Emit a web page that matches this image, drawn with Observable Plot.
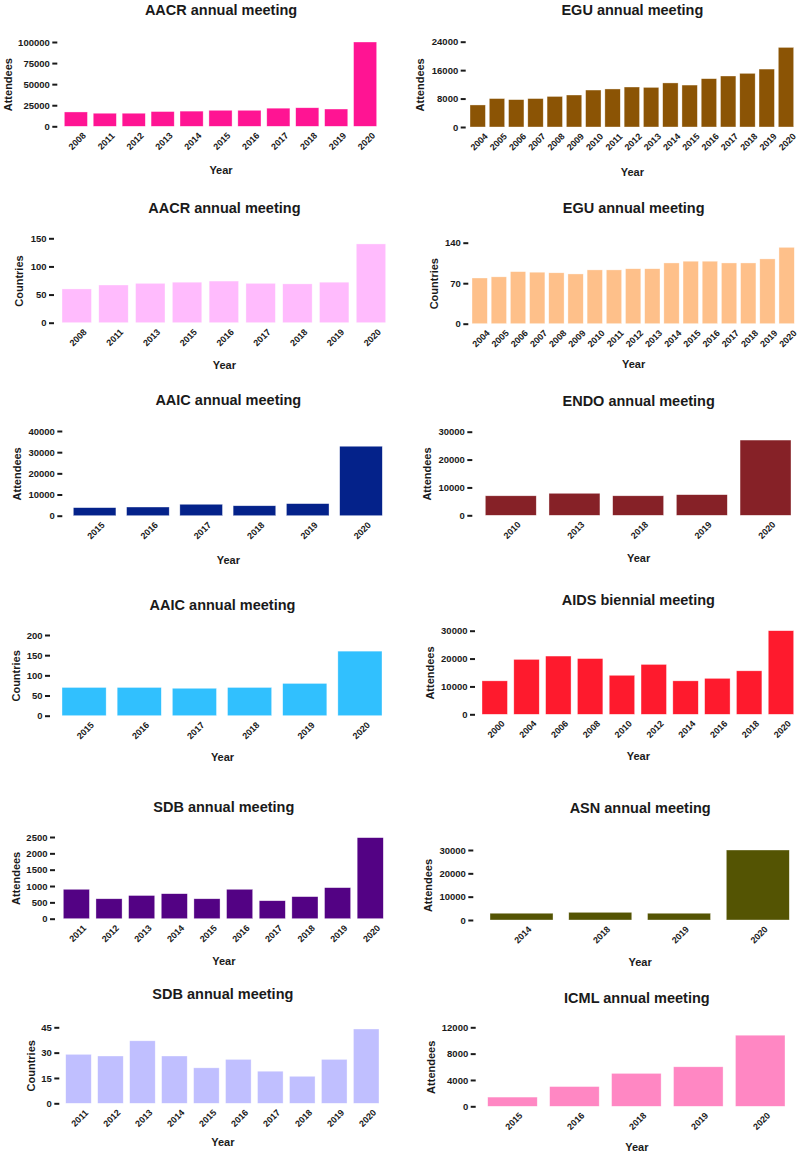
<!DOCTYPE html>
<html><head><meta charset="utf-8">
<script src="https://cdn.jsdelivr.net/npm/d3@7"></script>
<script src="https://cdn.jsdelivr.net/npm/@observablehq/plot@0.6"></script>
<style>
body{margin:0;background:#fff;}
#root{position:relative;width:799px;height:1153px;overflow:hidden;font-family:"Liberation Sans",Arial,sans-serif;}
#root svg{position:absolute;overflow:visible;}
</style></head><body><div id="root"></div>
<script>
// ---------- data ----------
const aacrAttYears = ["2008","2011","2012","2013","2014","2015","2016","2017","2018","2019","2020"];
const aacrAttendees = [17000,15500,15500,17500,18000,19000,19000,21500,22000,20500,100000];
const aacrAttTicks = [0,25000,50000,75000,100000];

const eguYears = ["2004","2005","2006","2007","2008","2009","2010","2011","2012","2013","2014","2015","2016","2017","2018","2019","2020"];
const eguAttendees = [6200,8000,7700,8000,8600,9000,10400,10700,11250,11150,12400,11800,13600,14350,15100,16300,22400];
const eguAttTicks = [0,8000,16000,24000];

const aacrCtyYears = ["2008","2011","2013","2015","2016","2017","2018","2019","2020"];
const aacrCountries = [60,67,70,72,74,70,69,72,140];
const aacrCtyTicks = [0,50,100,150];

const eguCountries = [79,81,90,89,88,86,93,93,95,95,105,108,108,105,105,112,132];
const eguCtyTicks = [0,70,140];

const aaicYears = ["2015","2016","2017","2018","2019","2020"];
const aaicAttendees = [3800,4100,5400,4700,5700,32800];
const aaicAttTicks = [0,10000,20000,30000,40000];
const aaicCountries = [70,70,68,70,80,160];
const aaicCtyTicks = [0,50,100,150,200];

const endoYears = ["2010","2013","2018","2019","2020"];
const endoAttendees = [7000,7900,7000,7400,27000];
const endoTicks = [0,10000,20000,30000];

const aidsYears = ["2000","2004","2006","2008","2010","2012","2014","2016","2018","2020"];
const aidsAttendees = [12000,19700,20900,20000,14000,17900,12000,12900,15600,30000];
const aidsTicks = [0,10000,20000,30000];

const sdbYears = ["2011","2012","2013","2014","2015","2016","2017","2018","2019","2020"];
const sdbAttendees = [900,610,710,765,610,900,550,675,950,2480];
const sdbAttTicks = [0,500,1000,1500,2000,2500];
const sdbCountries = [29,28,37,28,21,26,19,16,26,44];
const sdbCtyTicks = [0,15,30,45];

const asnYears = ["2014","2018","2019","2020"];
const asnAttendees = [2900,3300,2900,30000];
const asnTicks = [0,10000,20000,30000];

const icmlYears = ["2015","2016","2018","2019","2020"];
const icmlAttendees = [1400,3000,5000,6000,10800];
const icmlTicks = [0,4000,8000,12000];

// ---------- panels ----------
const panels = [
  {title:"AACR annual meeting", ylab:"Attendees", years:aacrAttYears, values:aacrAttendees, ticks:aacrAttTicks, color:"#FF1493",
   col:0, barL:64.3, barR:376.7, yTop:42, yBot:126.3, titleY:10.3, ylabX:8, yearY:170, gap:7},
  {title:"EGU annual meeting", ylab:"Attendees", years:eguYears, values:eguAttendees, ticks:eguAttTicks, color:"#8B5405",
   col:400, barL:470, barR:793.7, yTop:41.7, yBot:127, titleY:10, ylabX:420, yearY:171.7, gap:4.3},
  {title:"AACR annual meeting", ylab:"Countries", years:aacrCtyYears, values:aacrCountries, ticks:aacrCtyTicks, color:"#FFBBFD",
   col:0, barL:62, barR:385.7, yTop:238.3, yBot:322.7, titleY:207.7, ylabX:19, yearY:365, gap:8},
  {title:"EGU annual meeting", ylab:"Countries", years:eguYears, values:eguCountries, ticks:eguCtyTicks, color:"#FEC08A",
   col:400, barL:472, barR:794.3, yTop:242.7, yBot:323.7, titleY:207.7, ylabX:434, yearY:364, gap:3.7},
  {title:"AAIC annual meeting", ylab:"Attendees", years:aaicYears, values:aaicAttendees, ticks:aaicAttTicks, color:"#04228A",
   col:0, barL:73.3, barR:382.3, yTop:431, yBot:515.7, titleY:400, ylabX:17.3, yearY:560, gap:11},
  {title:"ENDO annual meeting", ylab:"Attendees", years:endoYears, values:endoAttendees, ticks:endoTicks, color:"#862127",
   col:400, barL:485.3, barR:791, yTop:431.7, yBot:515.3, titleY:400.8, ylabX:426.7, yearY:557.7, gap:13},
  {title:"AAIC annual meeting", ylab:"Countries", years:aaicYears, values:aaicCountries, ticks:aaicCtyTicks, color:"#31C0FE",
   col:0, barL:62, barR:382, yTop:635, yBot:715.7, titleY:604.7, ylabX:15.5, yearY:756.7, gap:12},
  {title:"AIDS biennial meeting", ylab:"Attendees", years:aidsYears, values:aidsAttendees, ticks:aidsTicks, color:"#FE1A2D",
   col:400, barL:482, barR:793.7, yTop:630.7, yBot:714.3, titleY:599.8, ylabX:430.3, yearY:756, gap:7},
  {title:"SDB annual meeting", ylab:"Attendees", years:sdbYears, values:sdbAttendees, ticks:sdbAttTicks, color:"#530284",
   col:0, barL:63.3, barR:383.3, yTop:837, yBot:918.7, titleY:806.5, ylabX:16, yearY:960.7, gap:8.3},
  {title:"ASN annual meeting", ylab:"Attendees", years:asnYears, values:asnAttendees, ticks:asnTicks, color:"#545403",
   col:400, barL:490, barR:789.3, yTop:850, yBot:920, titleY:807.7, ylabX:428.3, yearY:962, gap:16.7},
  {title:"SDB annual meeting", ylab:"Countries", years:sdbYears, values:sdbCountries, ticks:sdbCtyTicks, color:"#C0BFFF",
   col:0, barL:65.7, barR:379, yTop:1027.3, yBot:1103.3, titleY:993.5, ylabX:30.5, yearY:1142.3, gap:6.4},
  {title:"ICML annual meeting", ylab:"Attendees", years:icmlYears, values:icmlAttendees, ticks:icmlTicks, color:"#FF87C3",
   col:400, barL:487.7, barR:785, yTop:1027.3, yBot:1106.3, titleY:998.3, ylabX:430.5, yearY:1146.7, gap:12}
];

const root = document.getElementById("root");
const ink = "#1a1a1a";
const font = "'Liberation Sans', Arial, sans-serif";

for (const p of panels) {
  const data = p.years.map((y, i) => ({year: y, value: p.values[i]}));
  const svgLeft = p.col, width = p.col === 0 ? 400 : 399;
  const svgTop = Math.floor(p.titleY - 20);
  const svgBottom = Math.ceil(p.yearY + 14);
  const height = svgBottom - svgTop;
  const chart = Plot.plot({
    width, height,
    marginLeft: p.barL - svgLeft,
    marginRight: svgLeft + width - p.barR,
    marginTop: p.yTop - svgTop,
    marginBottom: svgBottom - p.yBot,
    style: {background: "transparent", fontFamily: font, overflow: "visible"},
    x: {type: "band", domain: p.years, paddingInner: 0.2, paddingOuter: 0, align: 0.5, round: false, axis: null},
    y: {domain: [0, p.ticks[p.ticks.length - 1]], nice: false, round: false},
    marks: [
      Plot.barY(data, {x: "year", y: "value", fill: p.color, stroke: "white", strokeWidth: 0.6, strokeOpacity: 0.6}),
      Plot.axisY({ticks: p.ticks, tickFormat: d3.format("d"), tickSize: 5, tickPadding: 3, dx: -p.gap,
        fontSize: 9.5, fontWeight: "bold", stroke: ink, strokeWidth: 2, fill: ink, label: null}),
      Plot.text(p.years, {x: d => d, frameAnchor: "bottom", dy: 16.5, dx: 3, rotate: -45, textAnchor: "middle",
        fontSize: 9, fontWeight: "bold", fill: ink}),
      Plot.text([p.title], {frameAnchor: "top", dy: p.titleY - p.yTop, fontSize: 14.5, fontWeight: "bold", fill: ink, lineAnchor: "middle"}),
      Plot.text(["Year"], {frameAnchor: "bottom", dy: p.yearY - p.yBot, fontSize: 11, fontWeight: "bold", fill: ink, lineAnchor: "middle"}),
      Plot.text([p.ylab], {frameAnchor: "left", dx: p.ylabX - p.barL, rotate: -90, fontSize: 11, fontWeight: "bold", fill: ink, lineAnchor: "middle", textAnchor: "middle"})
    ]
  });
  chart.style.left = svgLeft + "px";
  chart.style.top = svgTop + "px";
  root.appendChild(chart);
}
</script>
</body></html>
